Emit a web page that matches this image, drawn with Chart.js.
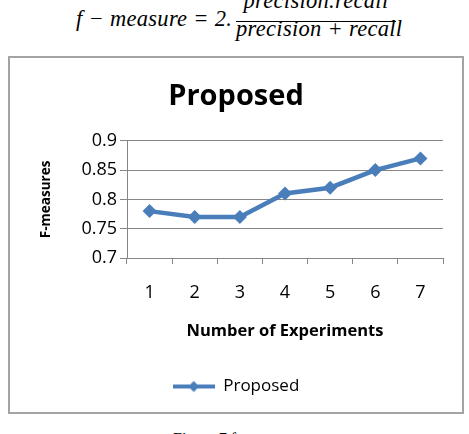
<!DOCTYPE html>
<html lang="en">
<head>
  <meta charset="UTF-8">
  <title>Proposed F-measures</title>
  <style>
    html, body { margin: 0; padding: 0; background: #fff; }
    body { width: 469px; height: 434px; position: relative; overflow: hidden; }
    .eq { position: absolute; font-family: 'Liberation Serif', serif; font-style: italic;
          font-size: 22.5px; line-height: 1; white-space: nowrap; color: #000; letter-spacing: 0.3px; }
    .frac-line { position: absolute; left: 236px; top: 20.5px; width: 160px; height: 1.3px; background: #000; }
    .box { position: absolute; left: 8px; top: 56px; width: 456px; height: 358px;
           border: 2px solid #a3a3a3; box-sizing: border-box; }
    .wrap { position: absolute; left: 10px; top: 58px; width: 452px; height: 354px; }
    .caption { position: absolute; left: 173px; top: 431px; font-family: 'Liberation Serif', serif;
               font-size: 16px; line-height: 1; white-space: nowrap; color: #000; }
  </style>
</head>
<body>
<div class="eq" style="left:76px; top:8.2px">f − measure = 2.</div>
<div class="eq" style="left:236px; top:-9.8px; width:160px; text-align:center">precision.recall</div>
<div class="frac-line"></div>
<div class="eq" style="left:236px; top:18.2px; width:160px; text-align:center">precision + recall</div>

<div class="box"></div>
<div class="wrap">
  <canvas id="chart"></canvas>
</div>
<div class="caption">Figure 7 f-measure</div>

<script src="https://cdn.jsdelivr.net/npm/chart.js"></script>

<script>
  const experiments = ['1', '2', '3', '4', '5', '6', '7'];
  const proposed = [0.78, 0.77, 0.77, 0.81, 0.82, 0.85, 0.87];
  const yMin = 0.7;
  const yMax = 0.9;
  const yStep = 0.05;

  const blue = '#4a7ebb';
  const gridGray = '#868686';
  const font = "'Open Sans', sans-serif";

  // legend symbol: line with a diamond in the middle
  const legendMark = document.createElement('canvas');
  legendMark.width = 42;
  legendMark.height = 14;
  const lctx = legendMark.getContext('2d');
  lctx.strokeStyle = blue;
  lctx.lineWidth = 4;
  lctx.beginPath();
  lctx.moveTo(0, 7);
  lctx.lineTo(42, 7);
  lctx.stroke();
  lctx.fillStyle = blue;
  lctx.beginPath();
  lctx.moveTo(21, 1.5);
  lctx.lineTo(26.5, 7);
  lctx.lineTo(21, 12.5);
  lctx.lineTo(15.5, 7);
  lctx.closePath();
  lctx.fill();

  new Chart(document.getElementById('chart'), {
    type: 'line',
    data: {
      labels: experiments,
      datasets: [{
        label: 'Proposed',
        data: proposed,
        borderColor: blue,
        backgroundColor: blue,
        borderWidth: 4.5,
        pointStyle: 'rectRot',
        pointRadius: 7,
        pointBorderWidth: 0,
        pointBackgroundColor: blue,
        tension: 0,
        fill: false
      }]
    },
    options: {
      responsive: true,
      maintainAspectRatio: false,
      animation: false,
      layout: { padding: { left: 0, right: 0, top: 0, bottom: 7 } },
      plugins: {
        title: {
          display: true,
          text: 'Proposed',
          color: '#000',
          font: { family: font, size: 29, weight: 'bold' },
          padding: { top: 21, bottom: 27 }
        },
        legend: {
          position: 'bottom',
          labels: {
            color: '#000',
            font: { family: font, size: 17 },
            usePointStyle: true,
            pointStyleWidth: 42,
            padding: 19,
            generateLabels: (chart) => [{
              text: 'Proposed',
              pointStyle: legendMark,
              fillStyle: blue,
              strokeStyle: blue,
              lineWidth: 0,
              datasetIndex: 0,
              fontColor: '#000'
            }]
          }
        },
        tooltip: { enabled: false }
      },
      scales: {
        x: {
          offset: true,
          grid: { offset: true, drawOnChartArea: false, drawTicks: true, tickLength: 6, color: gridGray },
          border: { color: gridGray },
          ticks: { color: '#000', font: { family: font, size: 18 }, padding: 18, maxRotation: 0 },
          title: {
            display: true,
            text: 'Number of Experiments',
            color: '#000',
            font: { family: font, size: 16.5, weight: 'bold' },
            padding: { top: 0, bottom: 18 }
          },
          afterFit: (s) => { s.height = 147 - (s.chart.legend ? s.chart.legend.height : 54); }
        },
        y: {
          min: yMin,
          max: yMax,
          grid: { color: gridGray, tickLength: 7 },
          border: { color: gridGray },
          ticks: {
            stepSize: yStep,
            color: '#000',
            font: { family: font, size: 18 },
            padding: 3,
            callback: (v) => String(+v.toFixed(2))
          },
          title: {
            display: true,
            text: 'F-measures',
            color: '#000',
            font: { family: font, size: 13.5, weight: 'bold' },
            padding: { top: 28, bottom: 0 }
          },
          afterFit: (s) => { s.width = 117; }
        },
        // empty scale that only keeps a margin on the right of the plot
        rightMargin: {
          type: 'linear',
          position: 'right',
          display: true,
          grid: { display: false, drawTicks: false },
          border: { display: false },
          ticks: { display: false },
          afterFit: (s) => { s.width = 19; }
        }
      }
    }
  });
</script>
</body>
</html>
